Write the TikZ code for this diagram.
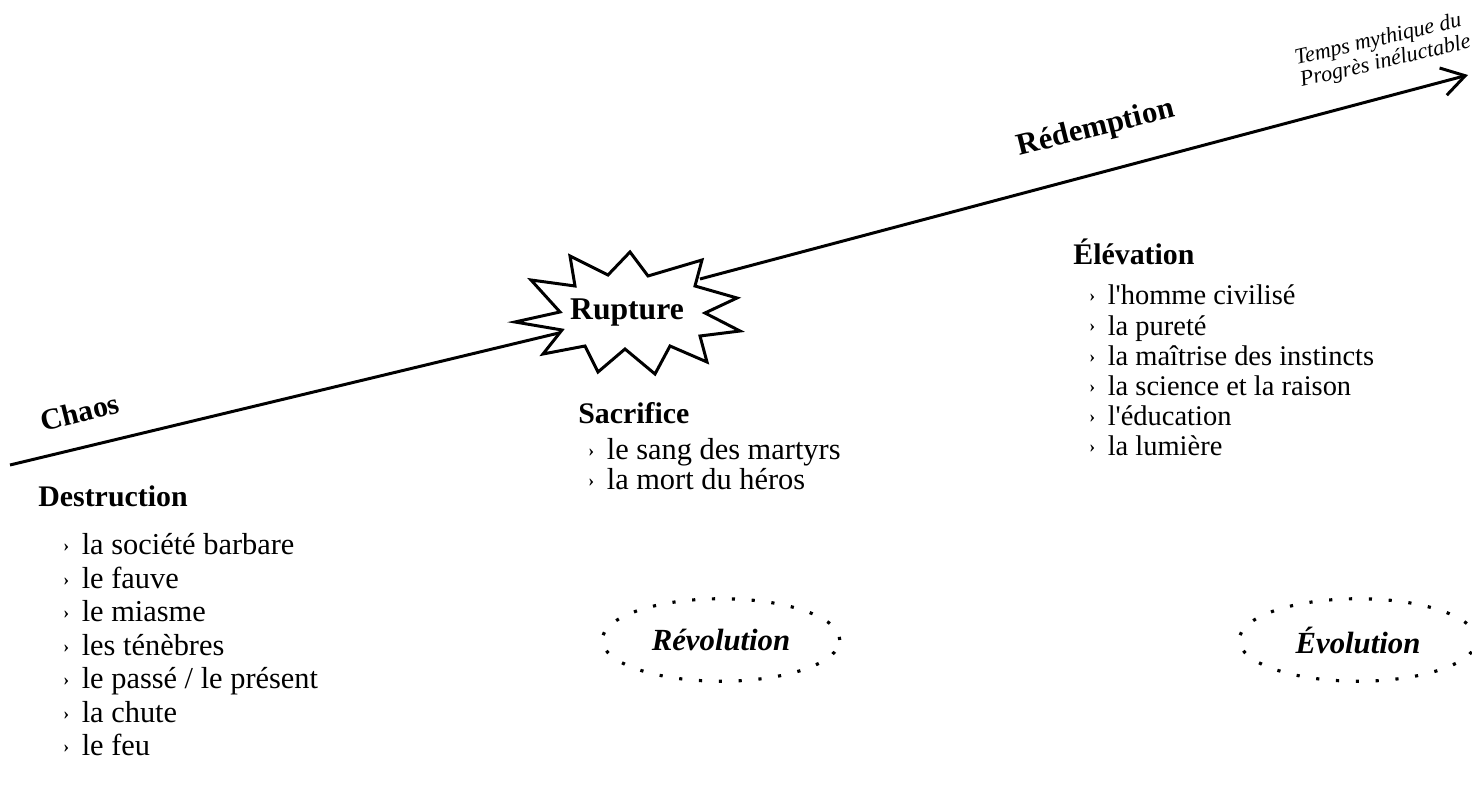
\documentclass[tikz,border=0pt]{standalone}
\usepackage{fontspec}
\setmainfont{Liberation Serif}
\usetikzlibrary{positioning,arrows.meta,shapes.geometric}

\tikzset{
  titre/.style={font=\fontsize{17}{20}\selectfont\bfseries, inner sep=0pt},
  liste/.style={font=\fontsize{17.3}{20}\selectfont, inner sep=0pt, anchor=base west},
  petiteliste/.style={font=\fontsize{16.2}{18}\selectfont, inner sep=0pt, anchor=base west},
  axe/.style={line width=1.7pt},
  pointille/.style={line width=1.8pt, dash pattern=on 1.8pt off 9.5pt},
  cycle/.style={ellipse, draw, pointille, minimum width=4.75cm, minimum height=1.65cm,
                font=\fontsize{17.5}{20}\selectfont\bfseries\itshape}
}
\newcommand{\puce}{\makebox[10.5pt][l]{\raisebox{0.25ex}{\fontsize{10}{10}\selectfont\bfseries ›}}}

\begin{document}
\begin{tikzpicture}[x=0.02cm, y=-0.02cm]
    \useasboundingbox (0,0) rectangle (1472,793);

    % Axe du temps
    \coordinate (debut) at (10,465);
    \coordinate (fin) at (1468,75);
    \coordinate (ruptG) at (563,332);
    \coordinate (ruptD) at (700,279);
    \draw[axe] (debut) -- (ruptG);
    \draw[axe, -{Straight Barb[length=13pt, width=16pt]}] (ruptD) -- (fin);

    % Etoile de la rupture
    \draw[axe, fill=white, line join=miter] (515,322) -- (560,312) -- (531,280) -- (575,286)
        -- (570,256) -- (608,275) -- (630,252) -- (648,276) -- (702,260) -- (695,286)
        -- (737,298) -- (705,313) -- (740,331) -- (700,336) -- (707,362) -- (670,346)
        -- (655,374) -- (625,349) -- (598,372) -- (585,346) -- (543,354) -- (562,330) -- cycle;
    \node[titre, font=\fontsize{18}{20}\selectfont\bfseries] (rupture) at (627,313) {Rupture};

    % Etiquettes de l'axe
    \node[titre, rotate=14] (chaos) at (80,412) {Chaos};
    \node[titre, font=\fontsize{17.5}{20}\selectfont\bfseries, rotate=14] (redemption) at (1096,129) {Rédemption};
    \node[inner sep=0pt, rotate=13, align=left, font=\fontsize{12.6}{13}\selectfont\itshape]
        (mythe) at (1383,51) {Temps mythique du\\Progrès inéluctable};

    % Destruction
    \node[titre, anchor=base west] (destruction) at (38,507) {Destruction};
    \foreach \t [count=\i] in {la société barbare, le fauve, le miasme, les ténèbres,
        le passé / le présent, la chute, le feu}
        \node[liste] (d\i) at (63, 555+33.5*\i-33.5) {\puce\t};

    % Sacrifice
    \node[titre, anchor=base west] (sacrifice) at (578,424) {Sacrifice};
    \foreach \t [count=\i] in {le sang des martyrs, la mort du héros}
        \node[liste] (s\i) at (588, 460+30*\i-30) {\puce\t};

    % Elevation
    \node[titre, anchor=base west] (elevation) at (1073,265) {Élévation};
    \foreach \t [count=\i] in {l\textquotesingle homme civilisé, la pureté, la maîtrise des instincts,
        la science et la raison, l\textquotesingle éducation, la lumière}
        \node[petiteliste] (e\i) at (1089, 305+30.2*\i-30.2) {\puce\t};

    % Revolution / Evolution
    \node[cycle] (revolution) at (721,640) {Révolution};
    \node[cycle] (evolution) at (1358,640) {Évolution};
\end{tikzpicture}
\end{document}
